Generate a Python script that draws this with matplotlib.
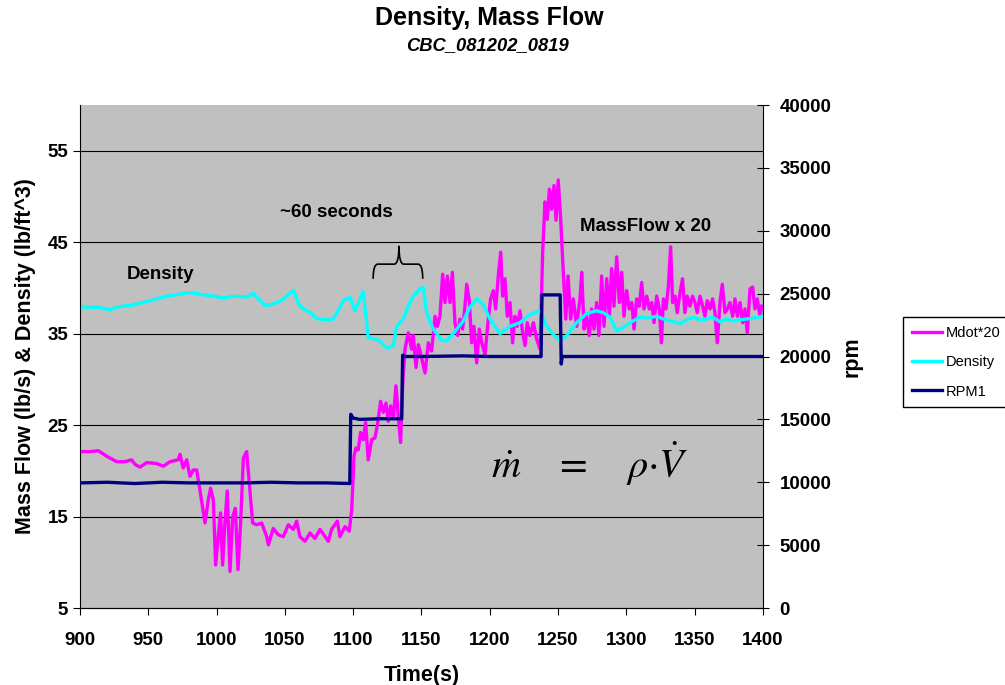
#Density / mass flow / rpm chart
import numpy as np
import matplotlib.pyplot as plt
from matplotlib.path import Path
from matplotlib.patches import PathPatch

plt.rcParams['font.family'] = ['Liberation Sans', 'DejaVu Sans']

#Mdot*20 (left axis)
mdot_t = [900, 907.3, 913.4, 919.5, 926.8, 932.9, 937.8, 940.3, 943.9, 948.8, 956.1, 961, 965.9, 971.9, 973.2,
          975.6, 978.1, 980.5, 983, 985.4, 987.8, 991.5, 993.9, 995.6, 997.6, 999.3, 1001.2, 1002.9, 1004.4,
          1006.1, 1007.8, 1009.8, 1011.8, 1013.7, 1015.7, 1017.6, 1019.6, 1022, 1024.5, 1026.4, 1029.3, 1033,
          1036.7, 1037.9, 1041.5, 1045.2, 1048.8, 1052.5, 1056.2, 1058.6, 1061, 1064.7, 1068.4, 1072, 1075.7,
          1079.4, 1081.8, 1084.2, 1088.4, 1090.3, 1094, 1097.1, 1098.9, 1100.6, 1102, 1103.7, 1105.4, 1107.4,
          1109.1, 1111, 1113.5, 1115.9, 1117.6, 1120.1, 1122, 1124, 1125.7, 1127.4, 1129.4, 1131.3, 1133, 1134.7,
          1136.2, 1137.9, 1140.3, 1142.8, 1144, 1146, 1147.7, 1148.9, 1152.6, 1155, 1157.4, 1159.9, 1161.6,
          1163.5, 1165.5, 1167.2, 1168.9, 1170.9, 1172.6, 1174.5, 1176.5, 1178.2, 1180.1, 1181.8, 1183.1, 1185,
          1186.7, 1188.4, 1190.4, 1192.3, 1194.1, 1196.5, 1198.9, 1200.6, 1202.6, 1204.3, 1206.2, 1208, 1209.4,
          1211.1, 1212.8, 1214.8, 1216.7, 1218.4, 1220.1, 1222.1, 1224, 1225.8, 1227.4, 1229.4, 1231.9, 1234.3,
          1236.8, 1238.7, 1240.4, 1242.1, 1243.6, 1245.3, 1247, 1248.5, 1250.1, 1251.9, 1253.8, 1255.6, 1257.3,
          1259.2, 1261.2, 1263.6, 1266, 1267.3, 1269, 1270.9, 1272.8, 1274.5, 1276.3, 1278.2, 1279.9, 1281.9,
          1283.6, 1285.6, 1287.5, 1289.2, 1290.9, 1292.9, 1294.8, 1296.6, 1298.2, 1300.2, 1302.1, 1303.9, 1305.6,
          1307.5, 1309.4, 1311.2, 1312.9, 1314.9, 1316.8, 1318.5, 1320.2, 1322.2, 1324.1, 1325.6, 1327.1, 1329,
          1330.7, 1332.4, 1333.8, 1335.6, 1337.2, 1339.3, 1341.1, 1342.8, 1344.5, 1346.5, 1348.4, 1350.2, 1351.8,
          1353.9, 1355.8, 1357.5, 1359.2, 1361.2, 1363.1, 1364.8, 1366.5, 1368.5, 1370.2, 1372.2, 1373.9, 1375.8,
          1377.8, 1379.5, 1381.2, 1383.2, 1385.1, 1386.8, 1388.5, 1390.5, 1392.4, 1394.1, 1395.8, 1397.8, 1399]
mdot_v = [22.1, 22.1, 22.2, 21.6, 21.0, 21.0, 21.2, 20.7, 20.4, 20.9, 20.8, 20.5, 21.0, 21.2, 21.8,
          20.3, 21.2, 19.4, 20.1, 20.1, 17.9, 14.3, 16.8, 18.1, 16.8, 9.7, 12.8, 15.4, 9.7,
          14.3, 17.8, 9.0, 15.0, 15.9, 9.2, 14.3, 21.4, 22.1, 17.6, 14.3, 14.1, 14.3,
          12.8, 11.9, 13.7, 13.0, 12.8, 14.1, 13.6, 14.5, 12.8, 12.3, 13.2, 12.6, 13.6,
          12.8, 12.3, 13.6, 14.5, 12.8, 13.9, 13.4, 15.7, 21.6, 22.5, 22.3, 24.2, 23.4,
          25.3, 21.2, 23.4, 23.6, 24.9, 27.6, 26.4, 27.4, 25.4, 27.1, 25.8, 29.3, 26.0, 23.1,
          29.3, 33.3, 35.1, 33.3, 34.8, 31.3, 33.8, 33.1, 30.7, 34.0, 33.1, 36.9, 35.8,
          36.9, 41.5, 38.4, 41.3, 38.4, 41.7, 36.2, 34.8, 36.6, 35.5, 38.0, 40.4, 38.6,
          34.0, 35.8, 31.8, 35.5, 34.0, 32.7, 36.6, 38.8, 39.7, 37.7, 41.3, 43.9, 39.1,
          41.0, 36.9, 38.4, 34.0, 36.9, 35.8, 37.5, 35.1, 33.7, 36.2, 34.8, 36.2, 34.4,
          33.3, 43.9, 49.4, 47.5, 50.8, 48.6, 51.2, 47.4, 51.8, 47.5, 41.7, 36.6, 41.3,
          36.6, 38.8, 35.8, 38.8, 41.7, 35.5, 36.9, 34.8, 37.7, 35.5, 38.4, 34.8, 41.3,
          35.8, 41.0, 36.9, 42.1, 38.0, 43.4, 38.4, 41.7, 36.9, 39.7, 37.7, 38.4, 35.5,
          38.8, 38.0, 40.6, 37.7, 39.1, 37.7, 38.4, 36.2, 39.1, 37.7, 34.0, 38.8, 37.7,
          40.2, 44.5, 38.4, 39.1, 37.3, 39.5, 41.0, 37.3, 39.1, 38.0, 39.1, 38.4, 37.3,
          39.1, 38.0, 36.9, 38.6, 37.7, 38.8, 37.3, 34.0, 38.4, 40.4, 37.3, 37.7, 38.4,
          36.9, 38.8, 36.9, 38.4, 36.2, 37.7, 35.1, 39.9, 40.1, 37.7, 38.8, 36.9, 38.0]

#Density (left axis)
dens_t = [900, 907, 914.6, 922, 926.8, 937, 948.8, 956, 963.5, 972, 980.5, 992.7, 998, 1004.9, 1012.2, 1022,
          1026.9, 1029.3, 1035.4, 1039, 1046.4, 1051.3, 1056.2, 1061, 1066, 1069, 1073.3, 1080.6, 1085.4,
          1087.9, 1092.8, 1097.7, 1101.3, 1107.4, 1111, 1114, 1119.6, 1124.5, 1129.4, 1131.8, 1136.7, 1140,
          1144, 1148.9, 1151.3, 1153.8, 1158.6, 1164.7, 1168.4, 1173.3, 1180.6, 1185.5, 1190.4, 1195.2,
          1200.1, 1207.5, 1214.8, 1222.1, 1229.4, 1236.8, 1241.6, 1246.5, 1251.4, 1256.3, 1263.5, 1270.9,
          1278.2, 1283, 1288, 1292.9, 1300.2, 1305, 1310, 1316, 1322.2, 1327, 1331.9, 1339.3, 1344, 1349,
          1354, 1358.8, 1363, 1368.5, 1373, 1378.3, 1383, 1388, 1393, 1399]
dens_v = [37.9, 37.9, 37.85, 37.6, 37.9, 38.1, 38.5, 38.8, 39.1, 39.3, 39.5, 39.2, 39.1, 38.9, 39.1, 39.0,
          39.4, 39.0, 38.1, 38.15, 38.5, 39.1, 39.75, 38.0, 37.5, 37.3, 36.65, 36.5, 36.6,
          37.2, 38.6, 39.0, 37.5, 39.6, 34.6, 34.5, 34.2, 33.4, 33.7, 35.8, 36.6, 37.9,
          39.1, 39.9, 40.05, 37.3, 35.5, 34.3, 34.2, 35.0, 36.4, 37.9, 38.8, 38.2,
          36.6, 35.0, 35.8, 36.2, 37.1, 37.5, 35.8, 34.9, 34.2, 34.8, 36.2, 37.2,
          37.5, 37.3, 36.8, 35.3, 35.9, 36.4, 36.8, 36.7, 36.9, 36.6, 36.4, 36.1, 36.5, 36.8,
          36.5, 36.6, 36.8, 36.3, 36.6, 36.4, 36.5, 36.6, 36.7, 36.9]

#RPM1 (right axis)
rpm_t = [900, 920, 940, 960, 980, 1000, 1020, 1040, 1060, 1080, 1097.5, 1098.2, 1100, 1105, 1120,
         1135.5, 1136.2, 1138, 1150, 1180, 1200, 1237.5, 1238.2, 1251.5, 1252.3, 1253, 1260, 1300, 1350, 1400]
rpm_v = [9950, 10000, 9900, 10000, 9950, 9950, 9950, 10000, 9950, 9950, 9900, 15400, 15100, 15000, 15050,
         15050, 20100, 20000, 20000, 20050, 20000, 20000, 24900, 24900, 19400, 20000, 20000, 20000, 20000, 20000]

fig = plt.figure(figsize=(10.05, 6.85), dpi=100)
ax = fig.add_axes([0.0796, 0.1124, 0.6796, 0.7343])
ax.set_facecolor('#C0C0C0')

l1, = ax.plot(mdot_t, mdot_v, color='#FF00FF', lw=2.4, label='Mdot*20')
l2, = ax.plot(dens_t, dens_v, color='#00FFFF', lw=2.4, label='Density')

ax.set_xlim(900, 1400)
ax.set_ylim(5, 60)
ax.set_xticks(np.arange(900, 1401, 50))
ax.set_yticks(np.arange(5, 56, 10))
for y in range(15, 56, 10):
    ax.axhline(y, color='black', lw=0.8, zorder=1)
ax.spines['top'].set_visible(False)
ax.spines['right'].set_visible(False)
ax.tick_params(direction='out', length=5, labelsize=13.5)
ax.tick_params(axis='x', pad=12)
for lab in ax.get_xticklabels() + ax.get_yticklabels():
    lab.set_fontweight('bold')
ax.set_xlabel('Time(s)', fontsize=15.5, fontweight='bold', labelpad=12)
ax.set_ylabel('Mass Flow (lb/s) & Density (lb/ft^3)', fontsize=15.5, fontweight='bold', labelpad=8)

ax2 = ax.twinx()
l3, = ax2.plot(rpm_t, rpm_v, color='#000080', lw=2.4, label='RPM1')
ax2.set_ylim(0, 40000)
ax2.set_yticks(np.arange(0, 40001, 5000))
ax2.spines['top'].set_visible(False)
ax2.spines['left'].set_visible(False)
ax2.tick_params(direction='inout', length=8, labelsize=13.5, pad=8)
for lab in ax2.get_yticklabels():
    lab.set_fontweight('bold')
ax2.set_ylabel('rpm', fontsize=15.5, fontweight='bold', labelpad=7)

#annotations
ax.text(959, 41.5, 'Density', fontsize=13.5, fontweight='bold', ha='center', va='center')
ax.text(1088, 48.3, '~60 seconds', fontsize=13.5, fontweight='bold', ha='center', va='center')
ax.text(1314, 46.7, 'MassFlow x 20', fontsize=13.5, fontweight='bold', ha='center', va='center')
ax.text(1273, 20.8, r'$\dot{m}\quad\,=\quad\,\rho{\cdot}\dot{V}$', fontsize=29, ha='center', va='center',
        math_fontfamily='stix')

#curly brace over the 60 s window
verts = [(1114.6, 41.0), (1114.6, 42.6), (1118, 42.6), (1130, 42.6), (1133.5, 42.6), (1133.5, 44.6),
         (1133.5, 42.6), (1137, 42.6), (1147.5, 42.6), (1150.9, 42.6), (1150.9, 41.0)]
codes = [Path.MOVETO, Path.CURVE3, Path.CURVE3, Path.LINETO, Path.CURVE3, Path.CURVE3,
         Path.CURVE3, Path.CURVE3, Path.LINETO, Path.CURVE3, Path.CURVE3]
ax.add_patch(PathPatch(Path(verts, codes), fill=False, color='black', lw=1.2))

fig.text(0.487, 0.973, 'Density, Mass Flow', fontsize=18, fontweight='bold', ha='center', va='center')
fig.text(0.485, 0.934, 'CBC_081202_0819', fontsize=13.2, fontweight='bold', style='italic', ha='center', va='center')

fig.legend(handles=[l1, l2, l3], loc='upper left', bbox_to_anchor=(0.8985, 0.537), fontsize=10.5,
           frameon=True, fancybox=False, edgecolor='black', framealpha=1, borderpad=0.6, borderaxespad=0,
           labelspacing=1.05, handlelength=2.1, handletextpad=0.25)

plt.savefig('out.png', dpi=100)
